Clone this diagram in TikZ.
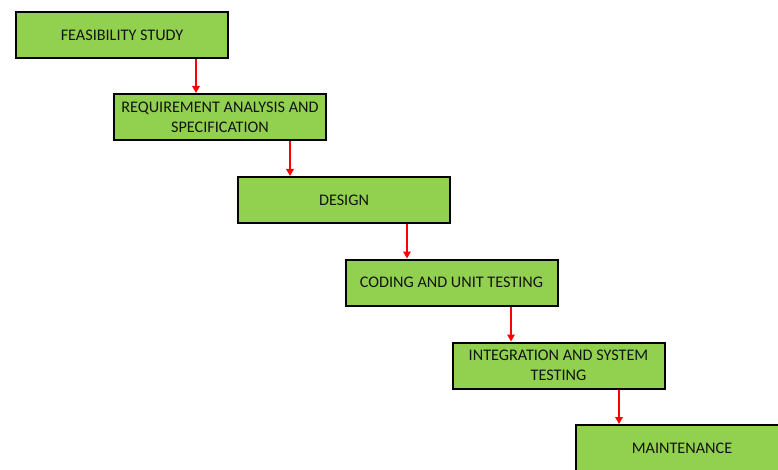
\documentclass[tikz,border=0pt]{standalone}
\usepackage{fontspec}
\setmainfont{Carlito}
\usetikzlibrary{arrows.meta}
\definecolor{boxgreen}{HTML}{92D050}
\definecolor{txt}{HTML}{141414}
\tikzset{
  stage/.style={draw=black, line width=2pt, fill=boxgreen, minimum width=212pt, minimum height=46pt,
    inner sep=2pt, align=center, text=txt, font=\fontsize{16.2}{20}\selectfont},
  flow/.style={draw=red, line width=1.8pt, -{Triangle[length=7pt,width=7.5pt]}}
}
\begin{document}
\begin{tikzpicture}[x=1pt,y=-1pt]
\useasboundingbox (0,0) rectangle (778,470);
\clip (0,0) rectangle (778,470);
\node[stage] (b1) at (122,35) {FEASIBILITY STUDY};
\node[stage] (b2) at (220,117) {REQUIREMENT ANALYSIS AND\\SPECIFICATION};
\node[stage] (b3) at (344,200) {DESIGN};
\node[stage] (b4) at (451.5,282.5) {CODING AND UNIT TESTING};
\node[stage] (b5) at (558.5,365.5) {INTEGRATION AND SYSTEM\\TESTING};
\node[stage] (b6) at (682,448) {MAINTENANCE};
\draw[flow] (b1.south -| 196,0) -- (b2.north -| 196,0);
\draw[flow] (b2.south -| 290,0) -- (b3.north -| 290,0);
\draw[flow] (b3.south -| 407,0) -- (b4.north -| 407,0);
\draw[flow] (b4.south -| 511,0) -- (b5.north -| 511,0);
\draw[flow] (b5.south -| 619,0) -- (b6.north -| 619,0);
\end{tikzpicture}
\end{document}
